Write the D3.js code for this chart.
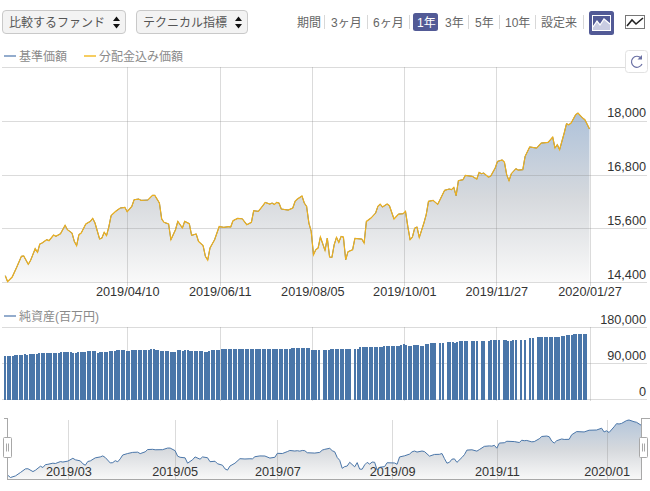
<!DOCTYPE html>
<html lang="ja">
<head>
<meta charset="utf-8">
<title>基準価額チャート</title>
<script src="https://cdn.jsdelivr.net/npm/d3@7"></script>
<style>
  html, body { margin: 0; padding: 0; background: #fff; overflow: hidden; }
  svg { display: block; }
  text { font-family: "Liberation Sans", "Noto Sans CJK JP", sans-serif; }
  .tick text { font-size: 12.7px; fill: #333; }
  .tick line { stroke: #888; stroke-opacity: 0.3; shape-rendering: crispEdges; }
  .legend { font-size: 12px; fill: #8a8a8a; }
  .menu { font-size: 12px; fill: #555; }
  .period { font-size: 12px; fill: #666; }
</style>
</head>
<body>
<svg width="650" height="491"></svg>
<script>
// session number of each reading, counted from the left edge of the 1 year view
const navSessions = [
  0, 1, 3, 5, 7, 8, 10, 11, 13, 14, 15, 16, 18, 19, 21, 22, 24, 26, 27, 29, 30, 31, 32, 33, 35, 37,
  38, 39, 41, 42, 43, 44, 45, 46, 48, 50, 52, 53, 55, 56, 58, 59, 62, 64, 65, 67, 68, 69, 71, 72,
  74, 75, 77, 78, 80, 81, 83, 84, 86, 87, 88, 89, 91, 93, 95, 97, 98, 99, 101, 103, 105, 107, 108,
  110, 112, 113, 115, 116, 117, 118, 119, 120, 123, 125, 126, 127, 129, 130, 131, 132, 133, 134,
  135, 136, 137, 139, 140, 141, 142, 143, 144, 145, 146, 147, 148, 149, 151, 152, 155, 156, 157,
  159, 161, 162, 163, 164, 166, 167, 169, 171, 173, 174, 175, 176, 177, 178, 179, 180, 182, 183,
  184, 186, 188, 189, 191, 193, 194, 195, 196, 197, 199, 200, 203, 205, 206, 207, 208, 210, 211,
  213, 214, 216, 217, 218, 219, 220, 222, 223, 225, 226, 228, 231, 233, 236, 238, 239, 240, 241,
  243, 244, 245, 246, 248, 249, 251, 252, 254
];
// 基準価額 (the 分配金込み価額 line sits on top of it)
const navValues = [
  14541, 14407, 14511, 14735, 14973, 14981, 14795, 14884, 15145, 15063, 15249, 15272, 15346, 15324, 15450, 15421, 15480, 15667, 15570, 15495, 15309, 15212, 15458, 15495, 15696, 15756,
  15823, 15719, 15361, 15383, 15510, 15436, 15629, 15883, 15980, 16054, 16069, 15972, 16091, 16240, 16255, 16225, 16233, 16337, 16337, 16166, 15808, 15734, 15696, 15346,
  15570, 15756, 15607, 15756, 15704, 15443, 15473, 15309, 15212, 14973, 14891, 15160, 15346, 15640, 15621, 15636, 15629, 15770, 15822, 15815, 15681, 15733, 15994,
  15979, 16106, 16180, 16143, 16165, 16135, 16180, 16165, 16031, 16009, 16054, 16203, 16255, 16322, 16165, 16091, 15718, 15532, 15010,
  15122, 15159, 15405, 15107, 15383, 14958, 14950, 15234, 15398, 15286, 15420, 15405, 14898, 15077, 15122, 15375, 15360, 15271, 15755,
  15830, 15942, 16091, 16143, 16076, 16143, 16106, 15808, 15919, 15927, 15979, 15644, 15346, 15405, 15606, 15629, 15398, 15718, 15904,
  16203, 16225, 16136, 16240, 16449, 16479, 16464, 16516, 16330, 16665, 16687, 16784, 16762, 16702, 16851, 16821, 16836, 16747, 16762,
  16948, 17097, 17127, 17082, 16799, 16665, 16821, 16933, 16903, 16911, 17209, 17418, 17395, 17507, 17522, 17641, 17395, 17470, 17358,
  17731, 17939, 17917, 17954, 18141, 18178, 18066, 18029, 17820
];

// 純資産(百万円), null where the chart has no bar
const assetValues = [
  107800, 107800, 107800, 107800, 110300, 110300, 111000, 111000, 112800, 110300,
  112800, 112800, 112800, 112800, 115300, 115300, 115300, 115300, 115300, 115300,
  115300, 115300, 115300, 117800, 117800, 117800, 117800, 117800, 115300, 115300,
  117800, 117800, 117800, 117800, 120300, 120300, 120300, 120300, 115300, 117800,
  117800, 117800, 117800, 120300, 120300, 120300, 122800, 122800, 122800, 122800,
  120300, 120300, 122800, 122800, 122800, 122800, 122800, 122800, 122800, 122800,
  125300, 125300, 122800, 122800, 120300, 120300, 120300, 120300, 117800, 117800,
  117800, 122800, 122800, 120300, 122800, 122800, 120300, 120300, 120300, 120300,
  120300, 120300, 117800, 117800, 120300, 122800, 122800, 122800, 122800, 124000,
  124000, 124000, 124000, 124000, 124000, 124000, 124000, 124000, 124000, 124000,
  124000, 124000, 125300, 125300, 125300, 125300, 125300, 125300, 125300, 125300,
  125300, 125300, 125300, 125300, 125300, 125300, 125300, 125300, 126500, 126500,
  126500, 126500, 126500, 126500, 126500, 126500, 122800, 122800, 122800, 122800,
  null, 122800, 122800, 122800, 125300, 125300, 125300, 125300, 125300, 125300,
  125300, 125300, 125300, null, 125300, 125300, 129000, 129000, 129000, 129000,
  129000, 129000, 129000, 129000, 129000, 129000, 132700, 132700, 132700, 132700,
  132700, 132700, 132700, 135200, 137700, 135200, 132700, 132700, 135200, 135200,
  135200, 132700, 132700, 137700, 137700, 140200, 140200, 140200, null, 140200,
  140200, null, 142700, 142700, 142700, 140200, 142700, 145200, 145200, 145200,
  145200, null, 145200, 145200, 145200, null, 145200, 145200, null, 145200,
  147700, 147700, 147700, 147700, null, 147700, 147700, 145200, 145200, 147700,
  147700, null, 147700, null, 147700, null, 152600, 152600, null, 155100,
  155100, 155100, 155100, 155100, 155100, 155100, 155100, 155100, 155100, 157600,
  157600, 160100, 160100, 160100, 162600, 162600, 162600, 162600, 162600, 162600
];

const priceTicks = [14400, 15600, 16800, 18000];
const assetTicks = [0, 90000, 180000];
const dateSessions = [53, 93.2, 133.5, 173.5, 213.5, 254];
const dateLabels = ["2019/04/10", "2019/06/11", "2019/08/05", "2019/10/01", "2019/11/27", "2020/01/27"];
const navigatorSessions = [24.2, 66.8, 108, 154, 196, 240];
const navigatorLabels = ["2019/03", "2019/05", "2019/07", "2019/09", "2019/11", "2020/01"];
const legendPrice = ["基準価額", "分配金込み価額"];
const legendAssets = "純資産(百万円)";
const menuLabels = ["比較するファンド", "テクニカル指標"];
const periodLabels = ["3ヶ月", "6ヶ月", "1年", "3年", "5年", "10年", "設定来"];

const navPoints = navSessions.map((s, i) => ({ session: s, value: navValues[i] }));
const fmt = d3.format(",");
const svg = d3.select("svg");
const defs = svg.append("defs");

const addGradient = (id, stops) => {
  const grad = defs.append("linearGradient").attr("id", id)
    .attr("x1", 0).attr("y1", 0).attr("x2", 0).attr("y2", 1);
  stops.forEach(([o, c]) => grad.append("stop").attr("offset", o).attr("stop-color", c));
};
addGradient("mainFill", [[0, "#aec2da"], [0.5, "#d6d9dd"], [1, "#f9f9f9"]]);
addGradient("navFill", [[0, "#b4c6db"], [0.5, "#d6d9dd"], [1, "#f8f8f8"]]);

// main price chart
const x = d3.scaleLinear().domain([0, 254]).range([5.3, 589.5]);
const y = d3.scaleLinear().domain([14400, 19207]).range([282, 67]);

const area = d3.area().x((d) => x(d.session)).y0(282).y1((d) => y(d.value));
const line = d3.line().x((d) => x(d.session)).y((d) => y(d.value));

svg.append("path").attr("d", area(navPoints)).attr("fill", "url(#mainFill)");

const yAxisG = svg.append("g").attr("transform", "translate(647,0)")
  .call(d3.axisLeft(y).tickValues(priceTicks).tickFormat(fmt).tickSize(645));
yAxisG.select(".domain").remove();
yAxisG.selectAll("text").attr("x", -1).attr("y", -4).attr("dy", 0);

// top border of the plot
svg.append("line").attr("x1", 2).attr("x2", 625).attr("y1", 67.5).attr("y2", 67.5)
  .attr("stroke", "#dbdbdb").attr("shape-rendering", "crispEdges");

const xAxisG = svg.append("g").attr("transform", "translate(0,286)")
  .call(d3.axisBottom(x).tickValues(dateSessions)
    .tickFormat((d, i) => dateLabels[i]).tickSize(-219));
xAxisG.select(".domain").remove();
xAxisG.selectAll("text").attr("y", 9.5).attr("dy", 0);

svg.append("path").attr("d", line(navPoints)).attr("fill", "none")
  .attr("stroke", "#4a76a9").attr("stroke-width", 1);
svg.append("path").attr("d", line(navPoints)).attr("fill", "none")
  .attr("stroke", "#eeb01c").attr("stroke-width", 1.2);

// net assets
const barX = d3.scaleBand().domain(d3.range(assetValues.length)).range([4.71, 588.15]);
const barY = d3.scaleLinear().domain([0, 180000]).range([399, 327]);

const barAxisG = svg.append("g").attr("transform", "translate(647,0)")
  .call(d3.axisLeft(barY).tickValues(assetTicks).tickFormat(fmt).tickSize(645));
barAxisG.select(".domain").remove();
barAxisG.selectAll("text").attr("x", -1).attr("y", -3.5).attr("dy", 0);

const barGrid = svg.append("g").attr("transform", "translate(0,401)")
  .call(d3.axisBottom(x).tickValues(dateSessions).tickFormat("").tickSize(-74));
barGrid.select(".domain").remove();

svg.append("g").selectAll("rect")
  .data(assetValues.map((v, i) => ({ i, v })).filter((d) => d.v !== null))
  .enter().append("rect")
  .attr("x", (d) => Math.floor(barX(d.i)))
  .attr("y", (d) => Math.round(barY(d.v)))
  .attr("width", 2)
  .attr("height", (d) => 399.5 - Math.round(barY(d.v)))
  .attr("fill", "#4a76a9")
  .attr("shape-rendering", "crispEdges");

// navigator
const navX = d3.scaleLinear().domain([0, 254]).range([8, 641.5]);
const navY = d3.scaleLinear().domain([14407, 18178]).range([477.5, 420]);
const navArea = d3.area().x((d) => navX(d.session)).y0(479).y1((d) => navY(d.value));
const navLine = d3.line().x((d) => navX(d.session)).y((d) => navY(d.value));

svg.append("path").attr("d", navArea(navPoints)).attr("fill", "url(#navFill)");

const navAxisG = svg.append("g").attr("transform", "translate(0,479)")
  .call(d3.axisBottom(navX).tickValues(navigatorSessions)
    .tickFormat((d, i) => navigatorLabels[i]).tickSize(-59));
navAxisG.select(".domain").remove();
navAxisG.selectAll("text").attr("y", -3.5).attr("dy", 0);

svg.append("path").attr("d", navLine(navPoints)).attr("fill", "none")
  .attr("stroke", "#4a76a9").attr("stroke-width", 1);

svg.append("path")
  .attr("d", "M3.5,418.5H7.5V437M7.5,457V479.5H642M641.5,479.5V457M641.5,437V418.5H650")
  .attr("fill", "none").attr("stroke", "#a8a8a8").attr("stroke-width", 1)
  .attr("shape-rendering", "crispEdges");

[3.5, 639.5].forEach((left) => {
  const h = svg.append("g").attr("transform", `translate(${left},437.5)`);
  h.append("rect").attr("width", 8).attr("height", 20).attr("rx", 1)
    .attr("fill", "#fff").attr("stroke", "#a8a8a8");
  h.append("path").attr("d", "M3,6V14M5,6V14").attr("stroke", "#a8a8a8").attr("fill", "none");
});

// legends
const legend = (lx, ly, color, label) => {
  svg.append("line").attr("x1", lx).attr("x2", lx + 12).attr("y1", ly).attr("y2", ly)
    .attr("stroke", color).attr("stroke-width", 1.5);
  svg.append("text").attr("class", "legend").attr("x", lx + 15).attr("y", ly + 4.5).text(label);
};
legend(4, 56, "#6f90bd", legendPrice[0]);
legend(84, 56, "#f3bd2d", legendPrice[1]);
legend(4, 316, "#6f90bd", legendAssets);

// toolbar
[[2.5, 123, 9], [136.5, 111, 143]].forEach(([left, w, tx], i) => {
  svg.append("rect").attr("x", left).attr("y", 10.5).attr("width", w).attr("height", 23).attr("rx", 3.5)
    .attr("fill", "#f3f3f3").attr("stroke", "#c9c9c9");
  svg.append("text").attr("class", "menu").attr("x", tx).attr("y", 26.5).text(menuLabels[i]);
  const ax = left + w - 9;
  svg.append("path").attr("d", `M${ax - 3.5},21L${ax},16.5L${ax + 3.5},21ZM${ax - 3.5},24L${ax},28.5L${ax + 3.5},24Z`)
    .attr("fill", "#111");
});

svg.append("text").attr("class", "period").attr("x", 297).attr("y", 26.5).text("期間");
const periodX = [331, 373, 417, 445, 475, 505, 541];
const dividerX = [324, 367, 409, 468, 499, 535, 583];
dividerX.forEach((dx) => {
  svg.append("line").attr("x1", dx + 0.5).attr("x2", dx + 0.5).attr("y1", 15).attr("y2", 29)
    .attr("stroke", "#d8d8d8");
});
svg.append("rect").attr("x", 413).attr("y", 13).attr("width", 25).attr("height", 18).attr("rx", 2.5)
  .attr("fill", "#525a96");
periodLabels.forEach((label, i) => {
  svg.append("text").attr("class", "period").attr("x", periodX[i]).attr("y", 26.5)
    .style("fill", i === 2 ? "#fff" : null).text(label);
});

// chart type buttons
svg.append("rect").attr("x", 589).attr("y", 11).attr("width", 25).attr("height", 24).attr("rx", 2.5)
  .attr("fill", "#525a96");
svg.append("rect").attr("x", 592.5).attr("y", 15.5).attr("width", 18).attr("height", 15)
  .attr("fill", "none").attr("stroke", "#fff");
svg.append("path").attr("d", "M593,30V27L597,21L600,25L604,19L610,24V30Z").attr("fill", "#c9cce2");
svg.append("path").attr("d", "M593,27L597,21L600,25L604,19L610,24").attr("fill", "none").attr("stroke", "#fff").attr("stroke-width", 1.3);

svg.append("rect").attr("x", 625.5).attr("y", 15.5).attr("width", 19).attr("height", 13)
  .attr("fill", "#fff").attr("stroke", "#777");
svg.append("path").attr("d", "M627,26L632,20L636,24L643,18").attr("fill", "none").attr("stroke", "#222").attr("stroke-width", 1.6);

// refresh button
svg.append("rect").attr("x", 625.5).attr("y", 50.5).attr("width", 22).attr("height", 22).attr("rx", 3)
  .attr("fill", "#fff").attr("stroke", "#e2e2e2");
svg.append("path").attr("d", "M641,58A5.5,5.5 0 1 0 642,64").attr("fill", "none")
  .attr("stroke", "#6a70a4").attr("stroke-width", 1.2);
svg.append("path").attr("d", "M642,55V59.5H637.5Z").attr("fill", "#6a70a4");
</script>
</body>
</html>
